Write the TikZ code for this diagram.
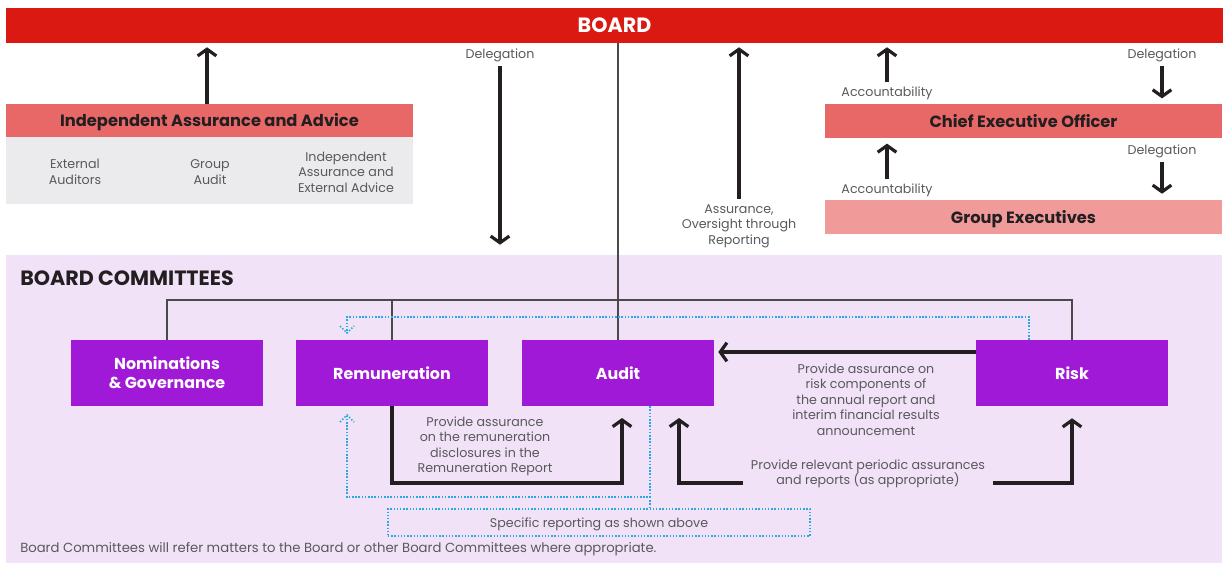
\documentclass[tikz,border=0pt]{standalone}
\usepackage{fontspec}
\setmainfont{Poppins}
\usetikzlibrary{arrows.meta}
\definecolor{boardred}{HTML}{DA1A12}
\definecolor{headred}{HTML}{E86767}
\definecolor{gepink}{HTML}{F09A99}
\definecolor{greybg}{HTML}{EBEBED}
\definecolor{lav}{HTML}{F2E2F8}
\definecolor{purp}{HTML}{A019D6}
\definecolor{ink}{HTML}{231F20}
\definecolor{txt}{HTML}{58595B}
\definecolor{dotblue}{HTML}{29A8E0}
\definecolor{linkgrey}{HTML}{4A4A4A}
\tikzset{
  band/.style={draw=none, inner sep=0pt, text=ink, text depth=0.05em, font=\fontsize{12.2}{14}\selectfont\bfseries},
  cbox/.style={fill=purp, draw=none, inner sep=0pt, minimum width=144pt, minimum height=49.5pt, text=white, align=center, font=\fontsize{11.9}{14.2}\selectfont\bfseries},
  lbl/.style={text=txt, align=center, inner sep=1pt, yshift=-1.5pt, font=\fontsize{9.5}{11.6}\selectfont},
  arr/.style={draw=ink, line width=2.4pt, -{Straight Barb[length=5pt,width=14pt]}},
  link/.style={draw=linkgrey, line width=0.9pt},
  dotl/.style={draw=dotblue, line width=1.1pt, dash pattern=on 1.1pt off 1.3pt},
}
\begin{document}
\begin{tikzpicture}[x=0.75pt,y=-0.75pt]
\useasboundingbox (0,0) rectangle (1223,564);
% Board
\node[band, fill=boardred, minimum width=912.75pt, minimum height=26.25pt, text=white, font=\fontsize{15.5}{17}\selectfont\bfseries] (board) at (614.5,25.5) {BOARD};
% Independent assurance
\node[band, fill=headred, minimum width=305.25pt, minimum height=24.75pt] (iaa) at (209.5,120.5) {Independent Assurance and Advice};
\node[band, fill=greybg, minimum width=305.25pt, minimum height=50.25pt] (grey) at (209.5,170.5) {};
\node[lbl] (ext) at (75,170) {External\\Auditors};
\node[lbl] (ga) at (210,170) {Group\\Audit};
\node[lbl] (iea) at (346,170) {Independent\\Assurance and\\External Advice};
% CEO and GE
\node[band, fill=headred, minimum width=297.75pt, minimum height=25.5pt] (ceo) at (1023.5,121) {Chief Executive Officer};
\node[band, fill=gepink, minimum width=297.75pt, minimum height=25.5pt] (ge) at (1023.5,217) {Group Executives};
% committees region
\node[draw=none, fill=lav, inner sep=0pt, minimum width=912pt, minimum height=231pt] (bc) at (614,409) {};
\node[anchor=west, inner sep=0pt, text=ink, font=\fontsize{15.5}{17}\selectfont\bfseries] (bctitle) at (20,278) {BOARD COMMITTEES};
\node[cbox] (nom) at (167,373) {Nominations\\\& Governance};
\node[cbox] (rem) at (392,373) {Remuneration};
\node[cbox] (aud) at (618,373) {Audit};
\node[cbox] (risk) at (1072,373) {Risk};
% labels top
\node[lbl] (del1) at (500,53) {Delegation};
\node[lbl] (assur) at (739,224) {Assurance,\\Oversight through\\Reporting};
\node[lbl] (acc1) at (887,91) {Accountability};
\node[lbl] (del2) at (1162,53) {Delegation};
\node[lbl] (acc2) at (887,188) {Accountability};
\node[lbl] (del3) at (1162,149) {Delegation};
% top arrows
\draw[arr, shorten >=3pt] (iaa.north -| 207,0) -- (board.south -| 207,0);
\draw[arr, shorten <=2pt, shorten >=7.5pt] (del1.south) -- (del1.south |- bc.north);
\draw[arr, shorten <=3pt, shorten >=3pt] (assur.north) -- (assur.north |- board.south);
\draw[arr, shorten <=2pt, shorten >=3pt] (acc1.north) -- (acc1.north |- board.south);
\draw[arr, shorten <=2pt, shorten >=4pt] (del2.south) -- (del2.south |- ceo.north);
\draw[arr, shorten <=2pt, shorten >=4pt] (acc2.north) -- (acc2.north |- ceo.south);
\draw[arr, shorten <=2pt, shorten >=4.5pt] (del3.south) -- (del3.south |- ge.north);
% thin links
\coordinate (fr) at (0,300);
\draw[link] (board.south -| aud.north) -- (aud.north);
\draw[link] (nom.north) -- (nom.north |- fr) -- (risk.north |- fr) -- (risk.north);
\draw[link] (rem.north) -- (rem.north |- fr);
% dotted from risk to remuneration
\coordinate (d1) at (1029,317);
\coordinate (dl) at (347,317);
\coordinate (dlt) at (347,333);
\draw[dotl] (risk.north -| d1) -- (d1) -- (dl) -- (dlt);
\draw[dotl] ([shift={(-7,-7)}]dlt) -- (dlt) -- ([shift={(7,-7)}]dlt);
% risk to audit
\node[lbl] (rlbl) at (866,397.5) {Provide assurance on\\risk components of\\the annual report and\\interim financial results\\announcement};
\draw[arr, shorten >=3pt] (risk.west |- 0,352) -- (aud.east |- 0,352);
% remuneration to audit
\node[lbl] (remlbl) at (485,444.5) {Provide assurance\\on the remuneration\\disclosures in the\\Remuneration Report};
\coordinate (rb) at (0,483);
\coordinate (ra) at (622,418);
\draw[arr] (rem.south) -- (rem.south |- rb) -| (ra);
% periodic assurances
\node[lbl, inner xsep=6pt] (perlbl) at (868,472) {Provide relevant periodic assurances\\and reports (as appropriate)};
\coordinate (pa) at (679,418);
\draw[arr] (perlbl.west |- rb) -| (pa);
\draw[arr, shorten >=9pt] (perlbl.east |- rb) -| (risk.south);
% dotted from audit to remuneration and specific box
\node[draw=dotblue, line width=1.1pt, dash pattern=on 1.1pt off 1.3pt, inner sep=0pt, minimum width=316.5pt, minimum height=20.25pt, text depth=0.02em, text=txt, font=\fontsize{9.5}{11}\selectfont] (spec) at (599,522.5) {Specific reporting as shown above};
\coordinate (d2) at (650,497);
\coordinate (dub) at (347,415);
\draw[dotl] (aud.south -| d2) -- (d2) -- (dl |- d2) -- (dub);
\draw[dotl] ([shift={(-7,7)}]dub) -- (dub) -- ([shift={(7,7)}]dub);
\draw[dotl] (d2) -- (spec.north -| d2);
% footer
\node[anchor=west, inner sep=0pt, text=txt, font=\fontsize{9.9}{11}\selectfont] (foot) at (20,549.5) {Board Committees will refer matters to the Board or other Board Committees where appropriate.};
\end{tikzpicture}
\end{document}
